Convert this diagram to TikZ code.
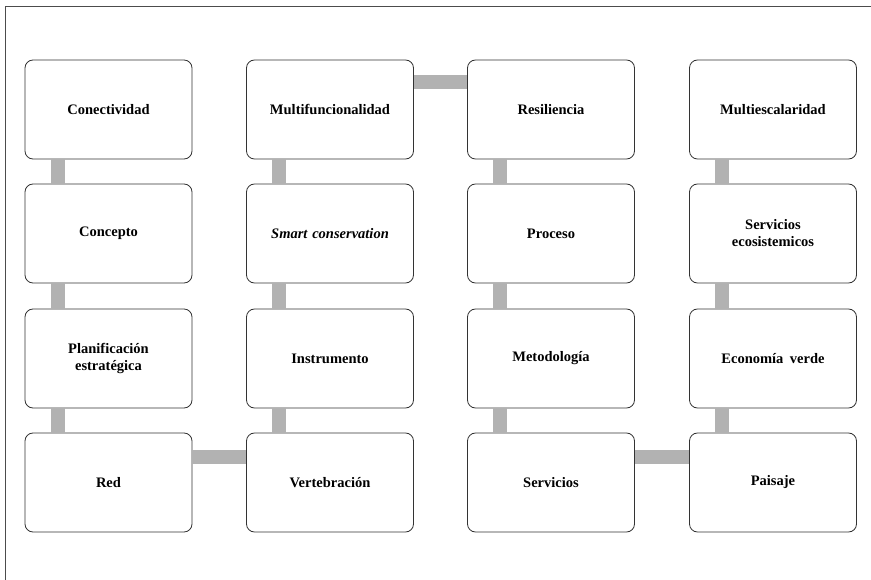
\documentclass[tikz,border=0pt]{standalone}
\usepackage{fontspec}
\setmainfont{Liberation Serif}
\usepackage{tikz}

\begin{document}
\begin{tikzpicture}[x=1pt, y=-1pt,
  concepto/.style={draw=black!80, line width=0.8pt, rounded corners=8pt, fill=white,
    minimum width=167pt, minimum height=99pt, text width=150pt, align=center,
    font=\fontsize{14.5}{17}\selectfont\bfseries, inner sep=0pt},
  barra/.style={draw=black!30, line width=14pt}]
  \useasboundingbox (0,0) rectangle (871,580);
  \draw[black!70, line width=0.9pt] (5.5,580) -- (5.5,6) -- (871,6);

  % column 1
  \node[concepto] (con) at (108.5,109.5) {Conectividad};
  \node[concepto] (cpt) at (108.5,233.5) {Concepto};
  \node[concepto] (pla) at (108.5,358.5) {Planificación\\estratégica};
  \node[concepto] (red) at (108.5,482.5) {Red};
  % column 2
  \node[concepto] (mul) at (330,109.5) {Multifuncionalidad};
  \node[concepto] (sma) at (330,233.5) {\itshape Smart conservation};
  \node[concepto] (ins) at (330,358.5) {Instrumento};
  \node[concepto] (ver) at (330,482.5) {Vertebración};
  % column 3
  \node[concepto] (res) at (551,109.5) {Resiliencia};
  \node[concepto] (pro) at (551,233.5) {Proceso};
  \node[concepto] (met) at (551,358.5) {Metodología};
  \node[concepto] (ser) at (551,482.5) {Servicios};
  % column 4
  \node[concepto] (mes) at (773,109.5) {Multiescalaridad};
  \node[concepto] (eco) at (773,233.5) {Servicios\\ecosistemicos};
  \node[concepto] (eve) at (773,358.5) {Economía\hspace{0.45em}verde};
  \node[concepto] (pai) at (773,482.5) {Paisaje};

  % vertical links
  \foreach \a/\b in {con/cpt, cpt/pla, pla/red, mul/sma, sma/ins, ins/ver,
                     res/pro, pro/met, met/ser, mes/eco, eco/eve, eve/pai} {
    \draw[barra] ([xshift=33pt]\a.south west) -- ([xshift=33pt]\b.north west);
  }
  % horizontal links
  \draw[barra] ([yshift=-22pt]mul.north east) -- ([yshift=-22pt]res.north west);
  \draw[barra] ([yshift=-24.5pt]red.north east) -- ([yshift=-24.5pt]ver.north west);
  \draw[barra] ([yshift=-24.5pt]ser.north east) -- ([yshift=-24.5pt]pai.north west);
\end{tikzpicture}
\end{document}
